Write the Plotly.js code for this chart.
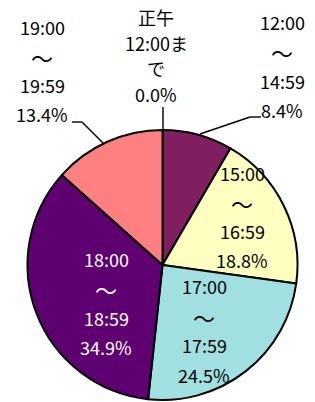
<!DOCTYPE html>
<html>
<head>
<meta charset="utf-8">
<script src="https://cdn.plot.ly/plotly-3.0.1.min.js"></script>
<style>html,body{margin:0;padding:0;background:#fff;}#chart{width:315px;height:402px;}</style>
</head>
<body>
<div id="chart"></div>
<script>
// ---- data ----
const categories = ['正午12:00まで', '12:00～14:59', '15:00～16:59', '17:00～17:59', '18:00～18:59', '19:00～19:59'];
const values = [0.0, 8.4, 18.8, 24.5, 34.9, 13.4];
const labelLines = [
  ['正午', '12:00ま', 'で'],
  ['12:00', '～', '14:59'],
  ['15:00', '～', '16:59'],
  ['17:00', '～', '17:59'],
  ['18:00', '～', '18:59'],
  ['19:00', '～', '19:59']
];

// ---- style / layout config ----
const W = 315, H = 402;
const colors = ['#FF8080', '#7F1F5F', '#FFFFC0', '#A0E0E0', '#5F0070', '#FF8080'];
const textColors = ['#000', '#000', '#000', '#000', '#fff', '#000'];
const pie = {cx: 162.5, cy: 265, r: 135};
// label anchor (center x, first-line center y, line step) in pixels
const labelPos = [
  {x: 156, y: 17, dy: 25.7},
  {x: 282, y: 22, dy: 29.3},
  {x: 242, y: 173, dy: 29},
  {x: 204, y: 286, dy: 29.7},
  {x: 106, y: 259, dy: 29.3},
  {x: 42, y: 27, dy: 29}
];
const leaders = [
  [[163, 107], [163, 130]],
  [[261, 117], [250, 117], [200, 134]],
  [[72, 122], [82, 122], [104, 144]]
];
const font = 'Noto Sans CJK JP, sans-serif';

const px = x => x / W;
const py = y => 1 - y / H;

const annotations = [];
labelLines.forEach((lines, i) => {
  const all = lines.concat([values[i].toFixed(1) + '%']);
  all.forEach((t, k) => {
    const isTilde = t === '～';
    annotations.push({
      text: t, showarrow: false, xref: 'paper', yref: 'paper',
      x: px(labelPos[i].x), y: py(labelPos[i].y + k * labelPos[i].dy + (isTilde ? 1 : 0)),
      xanchor: 'center', yanchor: 'middle',
      font: {family: font, size: isTilde ? 22 : 18, color: textColors[i]}
    });
  });
});

const shapes = [];
leaders.forEach(pts => {
  for (let k = 0; k < pts.length - 1; k++) {
    shapes.push({type: 'line', xref: 'paper', yref: 'paper',
      x0: px(pts[k][0]), y0: py(pts[k][1]), x1: px(pts[k+1][0]), y1: py(pts[k+1][1]),
      line: {color: '#000', width: 1.4}});
  }
});

const trace = {
  type: 'pie',
  labels: categories,
  values: values,
  sort: false,
  direction: 'clockwise',
  rotation: 0,
  textinfo: 'none',
  hoverinfo: 'label+percent',
  marker: {colors: colors, line: {color: '#000', width: 2}},
  domain: {
    x: [px(pie.cx - pie.r), px(pie.cx + pie.r)],
    y: [py(pie.cy + pie.r), py(pie.cy - pie.r)]
  },
  showlegend: false
};

Plotly.newPlot('chart', [trace], {
  width: W, height: H,
  margin: {l: 0, r: 0, t: 0, b: 0},
  paper_bgcolor: '#fff',
  showlegend: false,
  annotations: annotations,
  shapes: shapes,
  font: {family: font}
}, {displayModeBar: false, staticPlot: true});
</script>
</body>
</html>
